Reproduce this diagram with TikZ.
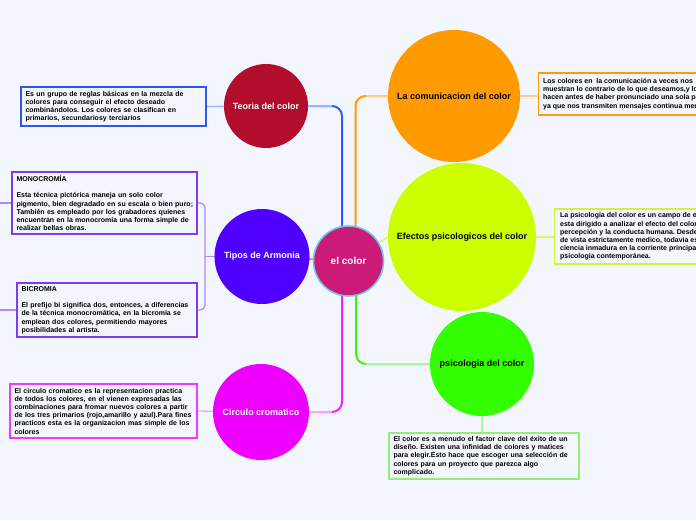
\documentclass[tikz,border=0pt]{standalone}
\usepackage{fontspec}
\setmainfont{Liberation Sans}
\usetikzlibrary{calc}
\pgfdeclarelayer{back}
\pgfdeclarelayer{bg}
\pgfsetlayers{back,bg,main}
\definecolor{bgc}{HTML}{F3F6FD}
\definecolor{cteoria}{HTML}{B20D2C}
\definecolor{ctipos}{HTML}{5000FF}
\definecolor{ccirc}{HTML}{EE00FF}
\definecolor{ccenter}{HTML}{CC1A78}
\definecolor{ccenterb}{HTML}{6EC6E6}
\definecolor{ccom}{HTML}{FF9A00}
\definecolor{cefe}{HTML}{CCFF00}
\definecolor{cpsi}{HTML}{33FF00}
\definecolor{lblue}{HTML}{2A5BFF}
\definecolor{llblue}{HTML}{9DB3FF}
\definecolor{lorange}{HTML}{FF9A00}
\definecolor{llorange}{HTML}{FFC98A}
\definecolor{lgreen}{HTML}{3EF20A}
\definecolor{llgreen}{HTML}{A6F7A0}
\definecolor{lmag}{HTML}{EE22FF}
\definecolor{llmag}{HTML}{F4A6FF}
\definecolor{lpurple}{HTML}{A88BFF}
\definecolor{lyg}{HTML}{DDF56A}
\definecolor{btbox}{HTML}{2F55F0}
\definecolor{bmono}{HTML}{7C3CF5}
\definecolor{bcirc}{HTML}{EE3BFF}
\definecolor{bcom}{HTML}{FF9A10}
\definecolor{befe}{HTML}{CCF53C}
\definecolor{bpsi}{HTML}{8CF07A}
\frenchspacing
\begin{document}
\begin{tikzpicture}[x=1pt,y=-1pt,
  circ/.style={circle,inner sep=0pt,draw=none,align=center,font=\bfseries\fontsize{9}{11}\selectfont},
  infobox/.style={draw,line width=1.3pt,inner xsep=4.5pt,inner ysep=3pt,align=left,font=\bfseries\fontsize{7}{8.2}\selectfont},
  conn/.style={line width=2pt,rounded corners=10pt},
  lconn/.style={line width=1.3pt}]
\useasboundingbox (0,0) rectangle (696,520);
\begin{pgfonlayer}{back}
\fill[bgc] (0,0) rectangle (696,520);
\end{pgfonlayer}
% main circles
\node[circ,fill=ccenter,draw=ccenterb,line width=1.6pt,minimum size=70pt,text=white,font=\bfseries\fontsize{10}{12}\selectfont] (c) at (348.5,261) {el color};
\node[circ,fill=cteoria,text=white,minimum size=84pt] (teoria) at (266,106) {Teoria del color};
\node[circ,fill=ctipos,text=white,minimum size=95pt] (tipos) at (262,256.5) {Tipos de Armonia};
\node[circ,fill=ccirc,text=white,minimum size=96pt] (circ) at (261,412) {Circulo cromatico};
\node[circ,fill=ccom,text=black,minimum size=132pt] (com) at (454,96) {La comunicacion del color};
\node[circ,fill=cefe,text=black,minimum size=148pt] (efe) at (462,237) {Efectos psicologicos del color};
\node[circ,fill=cpsi,text=black,minimum size=104pt] (psi) at (482,364) {psicologia del color};
% boxes
\node[infobox,draw=btbox,text width=176pt,minimum height=39pt] (tbox) at (113.5,106.5) {Es un grupo de reglas básicas en la mezcla de\\colores para conseguir el efecto deseado\\combinándolos. Los colores se clasifican en\\primarios, secundariosy terciarios};
\node[infobox,draw=bmono,text width=176pt,minimum height=62pt] (mono) at (104.5,203) {MONOCROMÍA\\[8.2pt]Esta técnica pictórica maneja un solo color\\\mbox{pigmento, bien degradado en su escala o bien puro;}\\También es empleado por los grabadores quienes\\encuentran en la monocromía una forma simple de\\realizar bellas obras.};
\node[infobox,draw=bmono,text width=171pt,minimum height=54pt] (bicro) at (107,310) {BICROMIA\\[8.2pt]\mbox{El prefijo bi significa dos, entonces, a diferencias}\\de la técnica monocromática, en la bicromía se\\emplean dos colores, permitiendo mayores\\posibilidades al artista.};
\node[infobox,draw=bcirc,text width=178pt,minimum height=54pt] (cbox) at (103.5,411) {El circulo cromatico es la representacion practica\\de todos los colores, en el vienen expresadas las\\combinaciones para fromar nuevos colores a partir\\\mbox{de los tres primarios (rojo,amarillo y azul).Para fines}\\practicos esta es la organizacion mas simple de los\\colores};
\node[infobox,draw=bcom,anchor=west,minimum height=42pt] (combox) at (538,94) {Los colores en\ \ la comunicación a veces nos\\muestran lo contrario de lo que deseamos,y lo\\hacen antes de haber pronunciado una sola palabra\\ya que nos transmiten mensajes continua mente};
\node[infobox,draw=befe,anchor=west,minimum height=55pt,inner xsep=5.5pt] (efbox) at (554,236.5) {La psicologia del color es un campo de estudio que\\esta dirigido a analizar el efecto del color en la\\percepción y la conducta humana. Desde el punto\\de vista estrictamente medico, todavia es una\\ciencia inmadura en la corriente principal de la\\psicologia contemporánea.};
\node[infobox,draw=bpsi,text width=181pt,minimum height=46pt] (psbox) at (484,456) {El color es a menudo el factor clave del éxito de un\\diseño. Existen una infinidad de colores y matices\\para elegir.Esto hace que escoger una selección de\\colores para un proyecto que parezca algo\\complicado.};
% helper coordinates
\coordinate (tl) at (332,106);
\coordinate (ol) at (366,96);
\coordinate (gl) at (366,364);
\coordinate (ml) at (332,412);
\coordinate (tj) at (205,256.5);
\coordinate (m0) at (0,203);
\coordinate (b0) at (0,310);
\begin{pgfonlayer}{bg}
\draw[conn,lblue] ([xshift=-6.5pt]c.center) |- (teoria.center);
\draw[lconn,llblue,line width=2pt] (teoria.center) -- (tl);
\draw[conn,lorange] ([xshift=7pt]c.center) |- (com.center);
\draw[lconn,llorange,line width=2pt] (com.center) -- (ol);
\draw[conn,lgreen] ([xshift=7.5pt]c.center) |- (psi.center);
\draw[lconn,llgreen,line width=2pt] (psi.center) -- (gl);
\draw[conn,lmag] ([xshift=-6.5pt]c.center) |- (circ.center);
\draw[lconn,llmag,line width=2pt] (circ.center) -- (ml);
\draw[lconn,lyg,line width=1.6pt] (c.center) -- (efe.west);
\draw[lconn,lpurple,line width=1.6pt] (tipos.center) -- (c.center);
% box connectors
\draw[lconn,llblue] (tbox.east) -- (teoria.center);
\draw[lconn,lpurple,rounded corners=5pt] (mono.east) -| (tj) |- (bicro.east);
\draw[lconn,lpurple] (tj) -- (tipos.center);
\draw[lconn,lpurple] (m0) -- (mono.west);
\draw[lconn,lpurple] (b0) -- (bicro.west);
\draw[lconn,llmag] (cbox.east) -- (circ.center);
\draw[lconn,llorange] (com.center) -- (combox.west |- com.center);
\draw[lconn,lyg] (efe.center) -- (efbox.west |- efe.center);
\draw[lconn,llgreen] (psi.center) -- (psbox.north -| psi.center);
\end{pgfonlayer}
\end{tikzpicture}
\end{document}
